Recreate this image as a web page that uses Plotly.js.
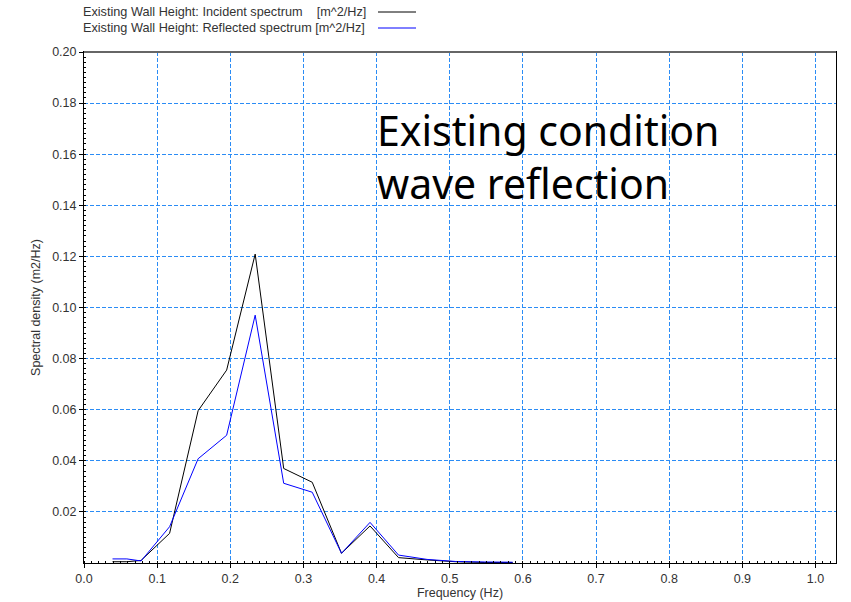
<!DOCTYPE html>
<html>
<head>
<meta charset="utf-8">
<script src="https://cdn.plot.ly/plotly-3.0.1.min.js"></script>
<style>html,body{margin:0;padding:0;background:#fff;}#chart{width:851px;height:602px;}</style>
</head>
<body>
<div id="chart"></div>
<script>
// Frequency (Hz)
const freq = [0.039, 0.0586, 0.078, 0.117, 0.156, 0.195, 0.234, 0.273, 0.312, 0.352, 0.391, 0.430, 0.469, 0.508, 0.547, 0.586];
// Incident spectrum (m^2/Hz)
const incident = [0.0005, 0.0005, 0.0010, 0.0116, 0.0596, 0.0755, 0.1209, 0.0370, 0.0316, 0.0038, 0.0145, 0.0021, 0.0012, 0.0005, 0.0002, 0.0002];
// Reflected spectrum (m^2/Hz)
const reflected = [0.0016, 0.0016, 0.0008, 0.0142, 0.0408, 0.0500, 0.0970, 0.0312, 0.0277, 0.0038, 0.0159, 0.0031, 0.0014, 0.0006, 0.0004, 0.0003];

const seriesNames = ["Existing Wall Height: Incident spectrum&nbsp;&nbsp;&nbsp;&nbsp;[m^2/Hz]", "Existing Wall Height: Reflected spectrum [m^2/Hz]"];
const seriesColors = ["#000000", "#0000ff"];
const xTicks = [0.0, 0.1, 0.2, 0.3, 0.4, 0.5, 0.6, 0.7, 0.8, 0.9, 1.0];
const yTicks = [0.02, 0.04, 0.06, 0.08, 0.10, 0.12, 0.14, 0.16, 0.18, 0.20];

const traces = [
  {x: freq, y: incident, type: 'scatter', mode: 'lines', line: {color: seriesColors[0], width: 1}, name: 'Incident'},
  {x: freq, y: reflected, type: 'scatter', mode: 'lines', line: {color: seriesColors[1], width: 1}, name: 'Reflected'}
];

const gridColor = '#2b8cf5';
const sansFont = 'Liberation Sans, Arial, sans-serif';
const tickFont = {family: sansFont, size: 12.5, color: '#333333'};

const layout = {
  width: 851, height: 602,
  margin: {l: 84, r: 15, t: 52, b: 39},
  paper_bgcolor: '#ffffff', plot_bgcolor: '#ffffff',
  showlegend: false,
  xaxis: {
    range: [0, 1.028],
    tickvals: xTicks, ticktext: xTicks.map(v => v.toFixed(1)),
    tickfont: tickFont, ticks: 'outside', ticklen: 4, tickcolor: '#000',
    showline: true, linecolor: '#000', linewidth: 1, mirror: true,
    showgrid: true, gridcolor: gridColor, griddash: '4px,2px', gridwidth: 1,
    zeroline: false,
    minor: {dtick: 0.01, ticks: 'inside', ticklen: 2, tickcolor: '#000', showgrid: false},
    title: {text: 'Frequency (Hz)', font: {family: sansFont, size: 12.5, color: '#333'}, standoff: 3}
  },
  yaxis: {
    range: [0, 0.2],
    tickvals: yTicks, ticktext: yTicks.map(v => v.toFixed(2)),
    tickfont: tickFont, ticks: 'outside', ticklen: 4, tickcolor: '#000',
    showline: true, linecolor: '#000', linewidth: 1, mirror: true,
    showgrid: true, gridcolor: gridColor, griddash: '4px,2px', gridwidth: 1,
    zeroline: false,
    minor: {dtick: 0.002, ticks: 'inside', ticklen: 2, tickcolor: '#000', showgrid: false},
    title: {text: 'Spectral density (m2/Hz)', font: {family: sansFont, size: 12.5, color: '#333'}, standoff: 8}
  },
  annotations: [
    {xref: 'paper', yref: 'paper', x: 0, y: 1, xshift: -3, yshift: 40, xanchor: 'left', yanchor: 'middle', showarrow: false,
     text: seriesNames[0], font: {family: sansFont, size: 12.7, color: '#333'}},
    {xref: 'paper', yref: 'paper', x: 0, y: 1, xshift: -3, yshift: 24, xanchor: 'left', yanchor: 'middle', showarrow: false,
     text: seriesNames[1], font: {family: sansFont, size: 12.7, color: '#333'}},
    {xref: 'x', yref: 'y', x: 0.398, y: 0.159, xanchor: 'left', yanchor: 'middle', showarrow: false, align: 'left',
     text: 'Existing condition<br>wave reflection', font: {family: 'Noto Sans, Open Sans, sans-serif', size: 41, color: '#000'}}
  ],
  shapes: [
    {type: 'line', xref: 'paper', yref: 'paper', ysizemode: 'pixel', yanchor: 1, x0: (378-84)/752, x1: (416-84)/752, y0: 40, y1: 40, line: {color: seriesColors[0], width: 1}},
    {type: 'line', xref: 'paper', yref: 'paper', ysizemode: 'pixel', yanchor: 1, x0: (378-84)/752, x1: (416-84)/752, y0: 24, y1: 24, line: {color: seriesColors[1], width: 1}},
    {type: 'line', xref: 'paper', yref: 'paper', x0: 0, x1: 1, y0: 1, y1: 1, line: {color: '#666666', width: 2}}
  ]
};

Plotly.newPlot('chart', traces, layout, {displayModeBar: false, staticPlot: true});
</script>
</body>
</html>
